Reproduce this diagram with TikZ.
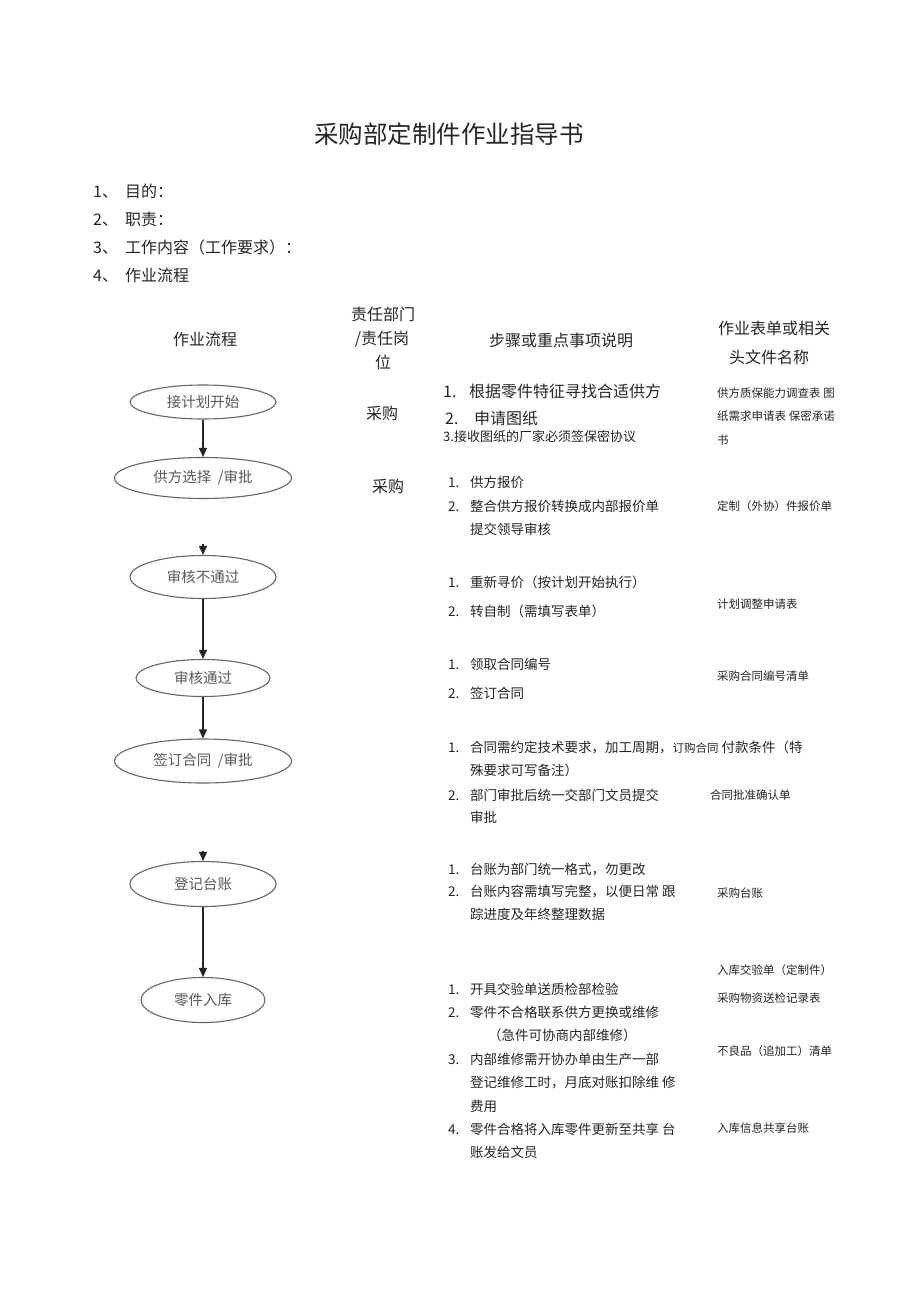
\documentclass[tikz,border=0pt]{standalone}
\usepackage{fontspec}
\newfontfamily\cjk{Noto Sans CJK SC}
\usetikzlibrary{shapes.geometric,arrows.meta}
\newcommand\fs[1]{\fontsize{#1}{#1}\selectfont}
\tikzset{
  txt/.style={anchor=west,inner sep=0pt,text=black!85,yshift=-1pt},
  fsz/.style={font=\cjk\fs{#1},text height=0.88*#1pt,text depth=0.12*#1pt},
  ctxt/.style={txt,anchor=center},
  oval/.style={ellipse,draw=black!60,line width=1.1pt,inner sep=0pt,font=\cjk\fs{14.5},text=black!65},
  arr/.style={draw=black!85,line width=1.1pt,-{Triangle[length=9pt,width=8pt]}},
}
\newcommand\itm[5]{%
  \node[txt,fsz=#3] (#1n) at (448,#2) {#4};
  \node[txt,fsz=#3] (#1t) at (470,#2) {#5};}
\newcommand\cont[4]{%
  \node[txt,fsz=#3] (#1) at (470,#2) {#4};}
\newcommand\frm[4]{%
  \node[txt,fsz=11.5] (#1) at (#2,#3) {#4};}
\begin{document}
\begin{tikzpicture}[x=1pt,y=-1pt]
\useasboundingbox[fill=white] (0,0) rectangle (920,1303);
% title
\node[ctxt,fsz=24.5] (title) at (449,133) {采购部定制件作业指导书};
% list
\node[txt,fsz=16] (l1n) at (93,190) {1、};
\node[txt,fsz=16] (l1t) at (125,190) {目的：};
\node[txt,fsz=16] (l2n) at (93,218) {2、};
\node[txt,fsz=16] (l2t) at (125,218) {职责：};
\node[txt,fsz=16] (l3n) at (93,246) {3、};
\node[txt,fsz=16] (l3t) at (125,246) {工作内容（工作要求）：};
\node[txt,fsz=16] (l4n) at (93,274) {4、};
\node[txt,fsz=16] (l4t) at (125,274) {作业流程};
% headers
\node[ctxt,fsz=16] (h1) at (205,338) {作业流程};
\node[ctxt,fsz=16] (h2a) at (383,313) {责任部门};
\node[ctxt,fsz=16] (h2b) at (382,337) {/责任岗};
\node[ctxt,fsz=16] (h2c) at (383,361) {位};
\node[ctxt,fsz=16] (h3) at (561,339) {步骤或重点事项说明};
\node[ctxt,fsz=16] (h4a) at (774,327) {作业表单或相关};
\node[ctxt,fsz=16] (h4b) at (769,356) {头文件名称};
% ovals
\node[oval,minimum width=146,minimum height=34] (e1) at (203,402) {接计划开始};
\node[oval,minimum width=177,minimum height=41] (e2) at (203,478) {供方选择\ \ /审批};
\node[oval,minimum width=146,minimum height=43] (e3) at (203,577) {审核不通过};
\node[oval,minimum width=134,minimum height=37] (e4) at (203,678) {审核通过};
\node[oval,minimum width=177,minimum height=44] (e5) at (203,761) {签订合同\ \ /审批};
\node[oval,minimum width=146,minimum height=45] (e6) at (203,884) {登记台账};
\node[oval,minimum width=124,minimum height=45] (e7) at (203,1000) {零件入库};
\coordinate (c3) at (203,544);
\coordinate (c6) at (203,851);
\draw[arr] (e1) -- (e2);
\draw[arr] (c3) -- (e3);
\draw[arr] (e3) -- (e4);
\draw[arr] (e4) -- (e5);
\draw[arr] (c6) -- (e6);
\draw[arr] (e6) -- (e7);
% responsible
\node[ctxt,fsz=16] (r1) at (382,412) {采购};
\node[ctxt,fsz=16] (r2) at (388,485) {采购};
% steps block 1
\node[txt,fsz=16] (s1an) at (443,390) {1.};
\node[txt,fsz=16] (s1at) at (469,390) {根据零件特征寻找合适供方};
\node[txt,fsz=16] (s1bn) at (445,417) {2.};
\node[txt,fsz=16] (s1bt) at (474,417) {申请图纸};
\node[txt,fsz=13] (s1c) at (443,436) {3.接收图纸的厂家必须签保密协议};
% block 2
\itm{s2a}{481}{13.5}{1.}{供方报价}
\itm{s2b}{505}{13.5}{2.}{整合供方报价转换成内部报价单}
\cont{s2c}{528}{13.5}{提交领导审核}
% block 3
\itm{s3a}{581}{13.5}{1.}{重新寻价（按计划开始执行）}
\itm{s3b}{610}{13.5}{2.}{转自制（需填写表单）}
% block 4
\itm{s4a}{663}{13.5}{1.}{领取合同编号}
\itm{s4b}{692}{13.5}{2.}{签订合同}
% block 5
\itm{s5a}{746}{13.5}{1.}{合同需约定技术要求，加工周期，{\fs{11.5}订购合同} 付款条件（特}
\cont{s5b}{769}{13.5}{殊要求可写备注）}
\itm{s5c}{794}{13.5}{2.}{部门审批后统一交部门文员提交}
\cont{s5d}{816}{13.5}{审批}
% block 6
\itm{s6a}{868}{13.5}{1.}{台账为部门统一格式，勿更改}
\itm{s6b}{890}{13.5}{2.}{台账内容需填写完整，以便日常 跟}
\cont{s6c}{913}{13.5}{踪进度及年终整理数据}
% block 7
\itm{s7a}{988}{13.5}{1.}{开具交验单送质检部检验}
\itm{s7b}{1011}{13.5}{2.}{零件不合格联系供方更换或维修}
\node[txt,fsz=13.5] (s7c) at (488,1034) {（急件可协商内部维修）};
\itm{s7d}{1058}{13.5}{3.}{内部维修需开协办单由生产一部}
\cont{s7e}{1081}{13.5}{登记维修工时，月底对账扣除维 修}
\cont{s7f}{1105}{13.5}{费用}
\itm{s7g}{1128}{13.5}{4.}{零件合格将入库零件更新至共享 台}
\cont{s7h}{1151}{13.5}{账发给文员}
% forms
\frm{f1a}{717}{392}{供方质保能力调查表 图}
\frm{f1b}{717}{415}{纸需求申请表 保密承诺}
\frm{f1c}{717}{439}{书}
\frm{f2}{717}{505}{定制（外协）件报价单}
\frm{f3}{717}{603}{计划调整申请表}
\frm{f4}{717}{675}{采购合同编号清单}
\frm{f5}{710}{794}{合同批准确认单}
\frm{f6}{717}{892}{采购台账}
\frm{f7a}{717}{969}{入库交验单（定制件）}
\frm{f7b}{717}{997}{采购物资送检记录表}
\frm{f7c}{717}{1050}{不良品（追加工）清单}
\frm{f7d}{717}{1127}{入库信息共享台账}
\end{tikzpicture}
\end{document}
